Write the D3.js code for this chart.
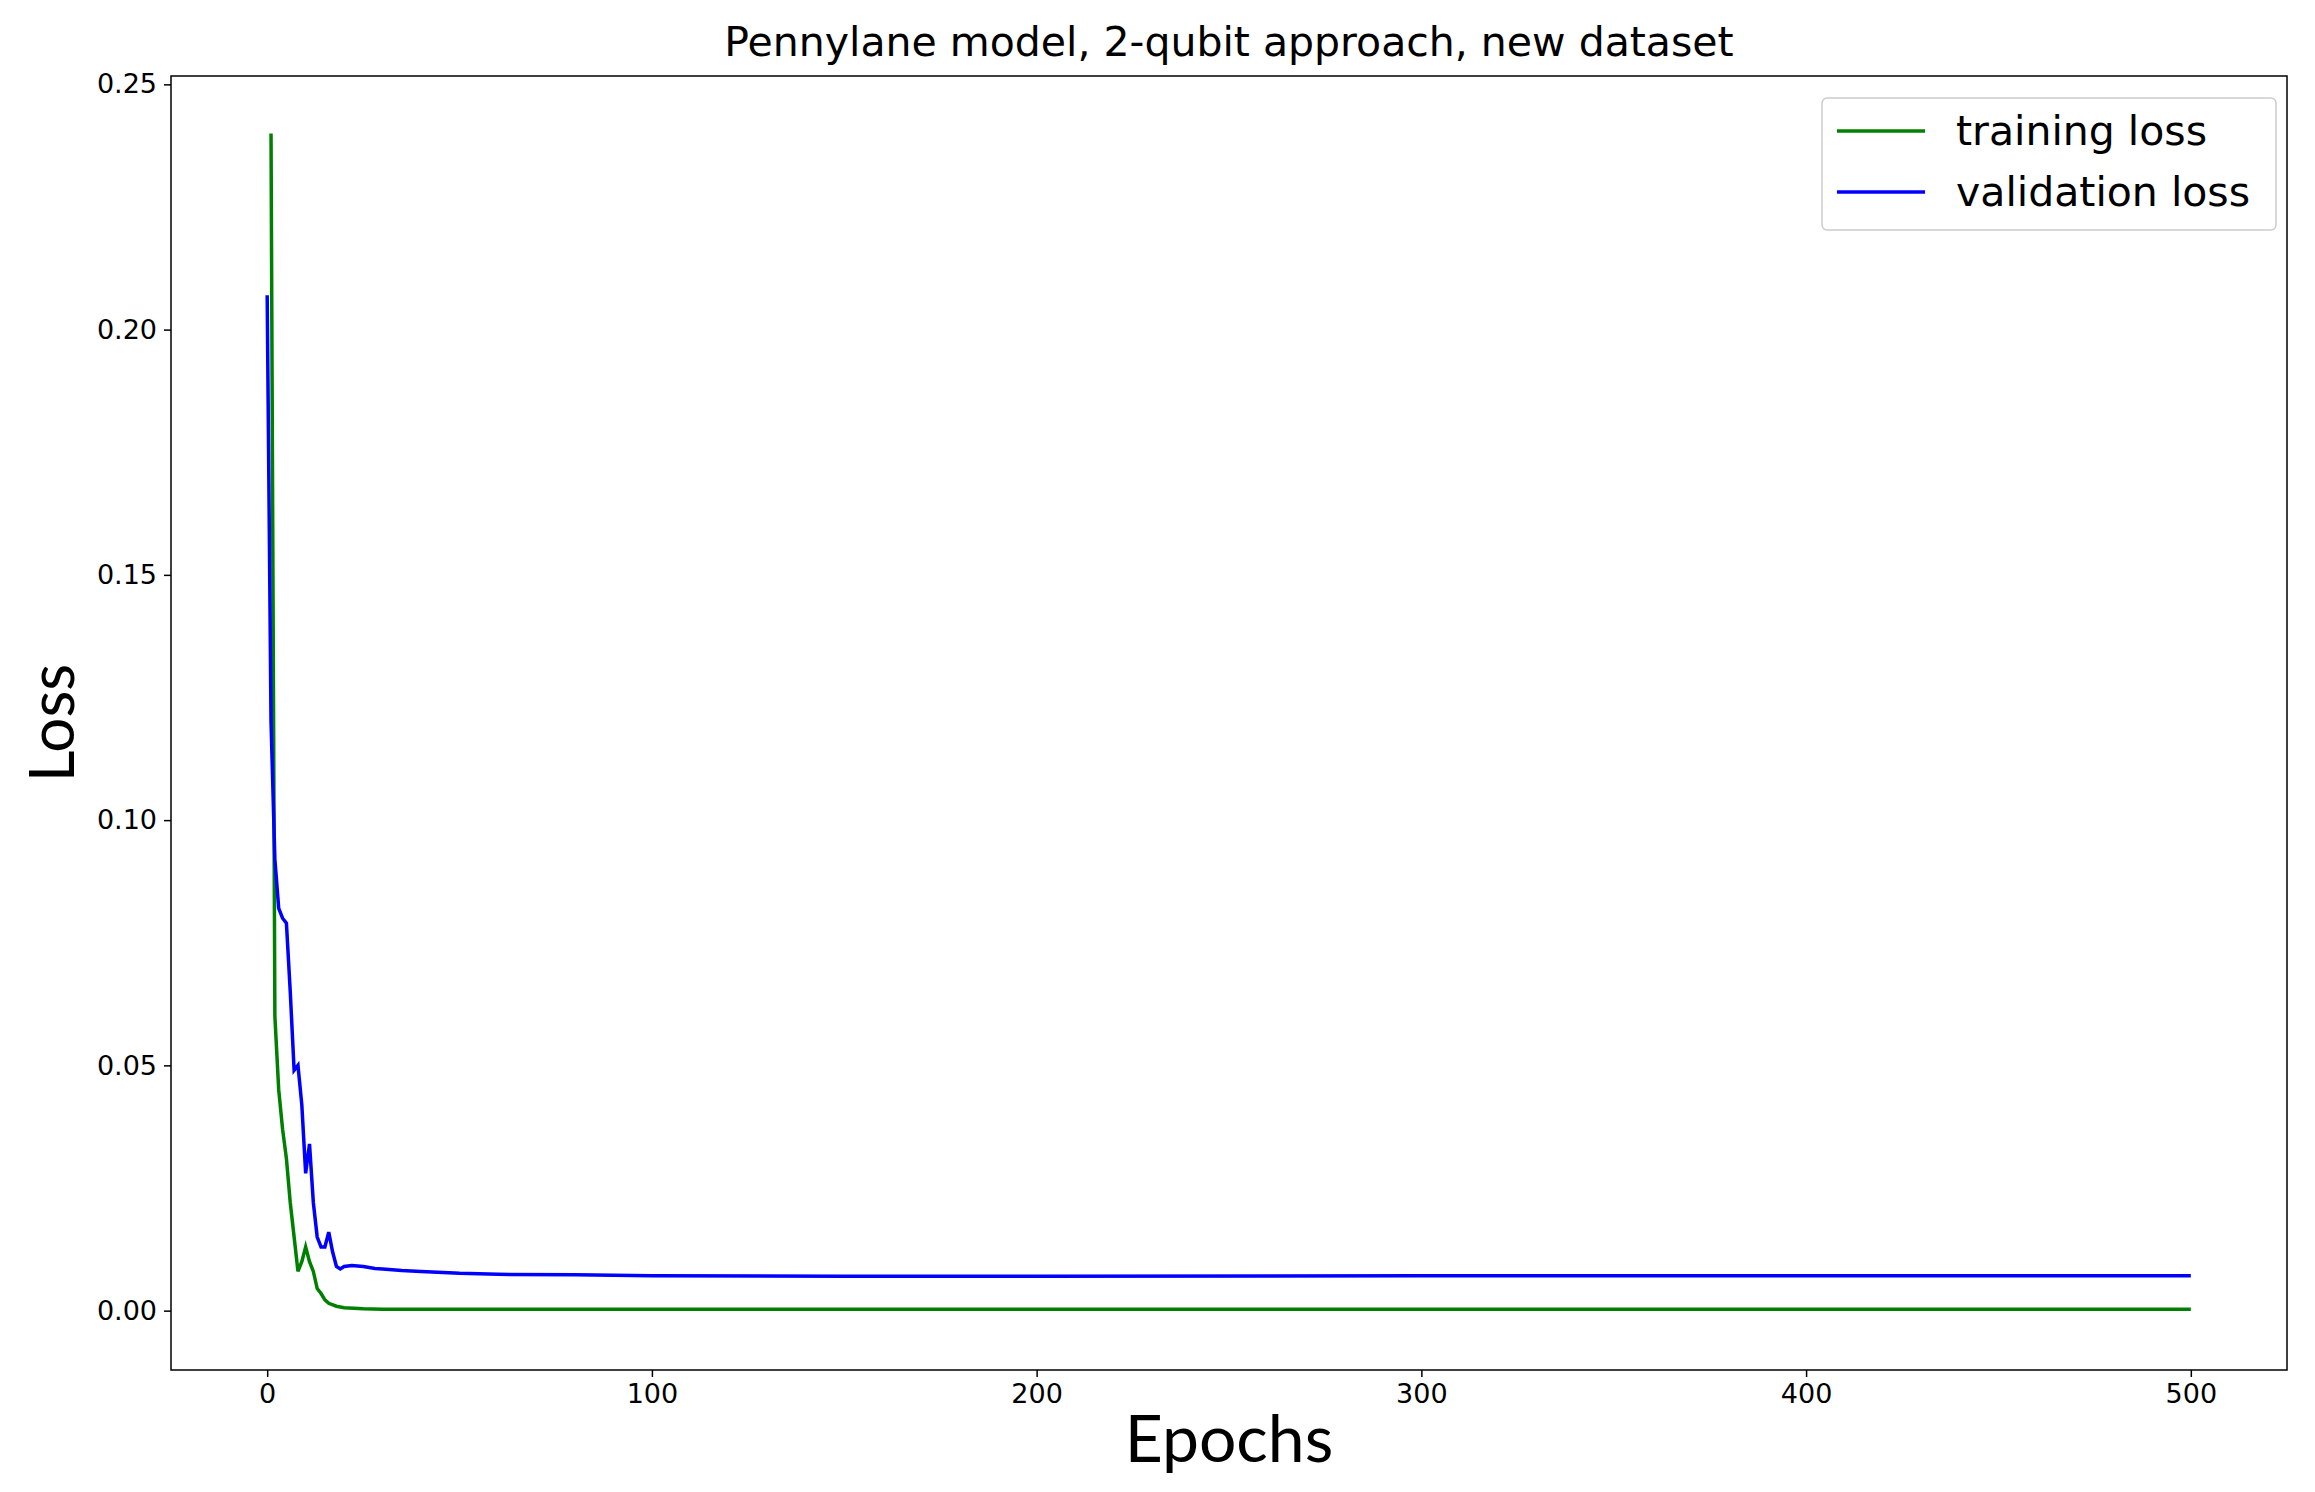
<!DOCTYPE html>
<html><head><meta charset="utf-8">
<script src="https://cdn.jsdelivr.net/npm/d3@7"></script>
<style>body{margin:0;background:#fff}</style></head>
<body>
<script>
// data (sparse epochs)
var trainEpochs = [1, 2, 3, 4, 5, 6, 7, 8, 9, 10, 11, 12, 13, 14, 15, 16, 18, 20, 25, 30, 50, 100, 200, 300, 400, 500];
var trainLoss   = [0.240, 0.060, 0.045, 0.037, 0.031, 0.022, 0.015, 0.008, 0.010, 0.013, 0.010, 0.008, 0.0045, 0.0035, 0.0022, 0.0015, 0.0009, 0.0006, 0.0004, 0.0003, 0.0003, 0.0003, 0.0003, 0.0003, 0.0003, 0.0003];
var valEpochs = [0, 1, 2, 3, 4, 5, 6, 7, 8, 9, 10, 11, 12, 13, 14, 15, 16, 17, 18, 19, 20, 22, 25, 28, 30, 35, 40, 50, 60, 80, 100, 150, 200, 300, 400, 500];
var valLoss   = [0.207, 0.120, 0.092, 0.082, 0.080, 0.079, 0.065, 0.049, 0.050, 0.042, 0.028, 0.034, 0.022, 0.015, 0.013, 0.013, 0.016, 0.012, 0.009, 0.0085, 0.009, 0.0092, 0.009, 0.0086, 0.0085, 0.0082, 0.008, 0.0076, 0.0074, 0.0073, 0.0071, 0.007, 0.007, 0.0071, 0.0071, 0.0071];
var xTicks = [0, 100, 200, 300, 400, 500];
var yTicks = [0, 0.05, 0.10, 0.15, 0.20, 0.25];

var W = 2315, H = 1492;
var m = {left: 171, right: 2287, top: 76, bottom: 1370};

var x = d3.scaleLinear().domain([-25, 525]).range([m.left, m.right]);
var y = d3.scaleLinear().domain([-0.0121, 0.2517]).range([m.bottom, m.top]);

var svg = d3.select('body').append('svg').attr('width', W).attr('height', H)
  .style('font-family', 'DejaVu Sans');

svg.append('g')
  .attr('transform', 'translate(0,' + m.bottom + ')')
  .call(d3.axisBottom(x).tickValues(xTicks).tickSize(7).tickPadding(7).tickFormat(d3.format('d')))
  .call(function(g){ g.select('.domain').remove(); g.selectAll('text').attr('font-size', 27).attr('font-family', 'DejaVu Sans'); g.selectAll('line').attr('stroke-width', 1.5); });

svg.append('g')
  .attr('transform', 'translate(' + m.left + ',0)')
  .call(d3.axisLeft(y).tickValues(yTicks).tickSize(7).tickPadding(7).tickFormat(d3.format('.2f')))
  .call(function(g){ g.select('.domain').remove(); g.selectAll('text').attr('font-size', 27).attr('font-family', 'DejaVu Sans'); g.selectAll('line').attr('stroke-width', 1.5); });

svg.append('rect')
  .attr('x', m.left).attr('y', m.top)
  .attr('width', m.right - m.left).attr('height', m.bottom - m.top)
  .attr('fill', 'none').attr('stroke', '#000').attr('stroke-width', 1.5);

var line = d3.line()
  .x(function(d){ return x(d[0]); })
  .y(function(d){ return y(d[1]); });

svg.append('path')
  .datum(d3.zip(trainEpochs, trainLoss))
  .attr('d', line).attr('fill', 'none').attr('stroke', 'green').attr('stroke-width', 3.5);

svg.append('path')
  .datum(d3.zip(valEpochs, valLoss))
  .attr('d', line).attr('fill', 'none').attr('stroke', 'blue').attr('stroke-width', 3.5);

svg.append('text')
  .attr('x', (m.left + m.right) / 2).attr('y', 56)
  .attr('text-anchor', 'middle').attr('font-size', 41)
  .text('Pennylane model, 2-qubit approach, new dataset');

svg.append('text')
  .attr('x', (m.left + m.right) / 2).attr('y', 1462)
  .attr('text-anchor', 'middle').attr('font-size', 66).attr('font-family', 'Lato')
  .text('Epochs');

svg.append('text')
  .attr('transform', 'translate(74,' + ((m.top + m.bottom) / 2) + ') rotate(-90)')
  .attr('text-anchor', 'middle').attr('font-size', 62).attr('font-family', 'Lato')
  .text('Loss');

// legend
var legend = svg.append('g');
legend.append('rect')
  .attr('x', 1822).attr('y', 98).attr('width', 454).attr('height', 132).attr('rx', 5)
  .attr('fill', '#fff').attr('stroke', '#ccc').attr('stroke-width', 1.5);
var items = [['training loss', 'green'], ['validation loss', 'blue']];
items.forEach(function(it, i){
  var yy = 131 + i * 61;
  legend.append('line').attr('x1', 1837).attr('x2', 1925).attr('y1', yy).attr('y2', yy)
    .attr('stroke', it[1]).attr('stroke-width', 3.5);
  legend.append('text').attr('x', 1956).attr('y', yy + 14).attr('font-size', 41).text(it[0]);
});
</script>
</body></html>
